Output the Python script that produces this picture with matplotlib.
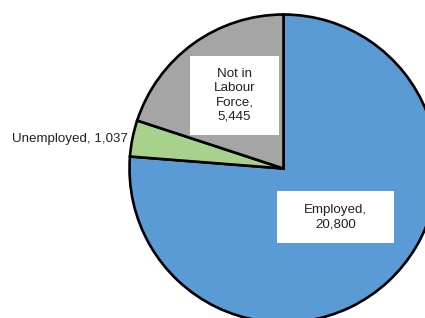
import matplotlib
matplotlib.use("Agg")
import matplotlib.pyplot as plt
from matplotlib.patches import Rectangle

categories = ["Employed", "Unemployed", "Not in Labour Force"]
values = [20800, 1037, 5445]
label_texts = ["Employed,\n20,800", "Unemployed, 1,037", "Not in\nLabour\nForce,\n5,445"]
colors = ["#5B9BD5", "#A9D18E", "#A5A5A5"]

W, H = 425, 318
fig = plt.figure(figsize=(W / 100, H / 100), dpi=100)
ax = fig.add_axes([0, 0, 1, 1])

cx, cy, r = 283.5, H - 168.5, 154
ax.pie(values, colors=colors, startangle=90, counterclock=False,
       center=(cx, cy), radius=r, frame=True,
       wedgeprops=dict(edgecolor="black", linewidth=1.9))
ax.set_xlim(0, W)
ax.set_ylim(0, H)
ax.set_aspect("equal")
ax.axis("off")

font = dict(family=["Liberation Sans", "DejaVu Sans"], fontsize=9.6, color="#222222")

# Not in Labour Force label box
ax.add_patch(Rectangle((190, H - 135), 89, 79, facecolor="white", edgecolor="none", zorder=5))
ax.text(234.5, H - 95.5, label_texts[2], ha="center", va="center",
        linespacing=1.25, zorder=6, **font)

# Employed label box
ax.add_patch(Rectangle((277, H - 243), 117, 52, facecolor="white", edgecolor="none", zorder=5))
ax.text(335.5, H - 217, label_texts[0], ha="center", va="center",
        linespacing=1.25, zorder=6, **font)

# Unemployed label
ax.text(128, H - 139, label_texts[1], ha="right", va="center", zorder=6, **font)

fig.savefig("out.png", dpi=100)
